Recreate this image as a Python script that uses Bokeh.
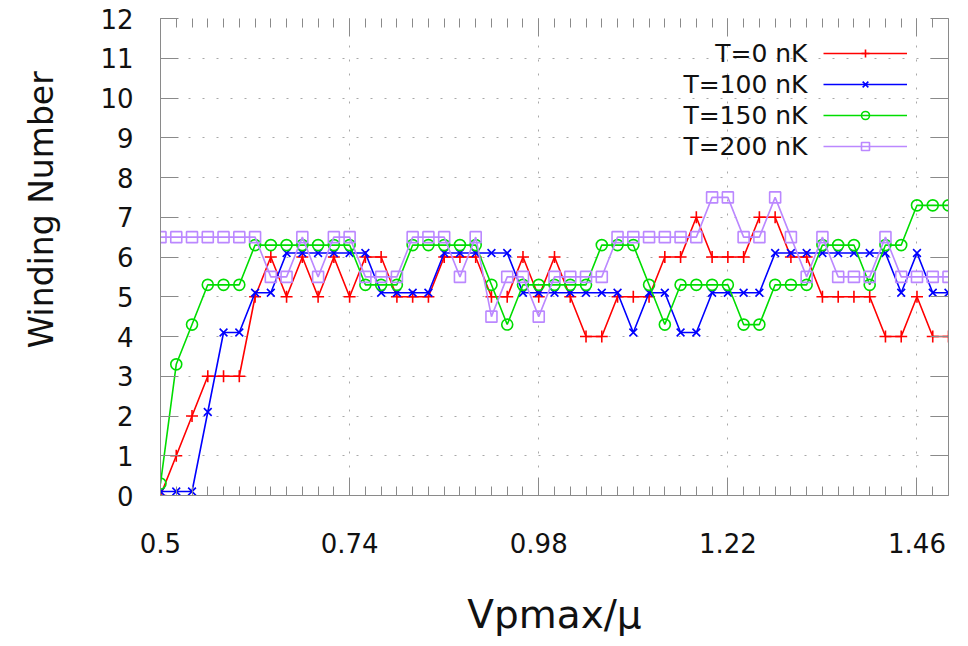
import math
from bokeh.plotting import figure
from bokeh.models import Range1d, FixedTicker, LinearAxis, Legend, LegendItem, Label
from bokeh.embed import file_html
from bokeh.resources import INLINE
from bokeh.core.properties import value

# ---------------- data ----------------
x_vals = [0.50, 0.52, 0.54, 0.56, 0.58, 0.60, 0.62, 0.64, 0.66, 0.68,
          0.70, 0.72, 0.74, 0.76, 0.78, 0.80, 0.82, 0.84, 0.86, 0.88,
          0.90, 0.92, 0.94, 0.96, 0.98, 1.00, 1.02, 1.04, 1.06, 1.08,
          1.10, 1.12, 1.14, 1.16, 1.18, 1.20, 1.22, 1.24, 1.26, 1.28,
          1.30, 1.32, 1.34, 1.36, 1.38, 1.40, 1.42, 1.44, 1.46, 1.48, 1.50]

t0 = [0, 1, 2, 3, 3, 3, 5, 6, 5, 6, 5, 6, 5, 6, 6, 5, 5, 5, 6, 6,
      6, 5, 5, 6, 5, 6, 5, 4, 4, 5, 5, 5, 6, 6, 7, 6, 6, 6, 7, 7,
      6, 6, 5, 5, 5, 5, 4, 4, 5, 4, 4]

t100 = [0.1, 0.1, 0.1, 2.1, 4.1, 4.1, 5.1, 5.1, 6.1, 6.1, 6.1, 6.1, 6.1, 6.1,
        5.1, 5.1, 5.1, 5.1, 6.1, 6.1, 6.1, 6.1, 6.1, 5.1, 5.1, 5.1,
        5.1, 5.1, 5.1, 5.1, 4.1, 5.1, 5.1, 4.1, 4.1, 5.1, 5.1, 5.1,
        5.1, 6.1, 6.1, 6.1, 6.1, 6.1, 6.1, 6.1, 6.1, 5.1, 6.1, 5.1, 5.1]

t150 = [0.3, 3.3, 4.3, 5.3, 5.3, 5.3, 6.3, 6.3, 6.3, 6.3, 6.3, 6.3, 6.3, 5.3,
        5.3, 5.3, 6.3, 6.3, 6.3, 6.3, 6.3, 5.3, 4.3, 5.3, 5.3, 5.3,
        5.3, 5.3, 6.3, 6.3, 6.3, 5.3, 4.3, 5.3, 5.3, 5.3, 5.3, 4.3,
        4.3, 5.3, 5.3, 5.3, 6.3, 6.3, 6.3, 5.3, 6.3, 6.3, 7.3, 7.3, 7.3]

t200 = [6.5, 6.5, 6.5, 6.5, 6.5, 6.5, 6.5, 5.5, 5.5, 6.5, 5.5, 6.5, 6.5,
        5.5, 5.5, 5.5, 6.5, 6.5, 6.5, 5.5, 6.5, 4.5, 5.5, 5.5, 4.5,
        5.5, 5.5, 5.5, 5.5, 6.5, 6.5, 6.5, 6.5, 6.5, 6.5, 7.5, 7.5,
        6.5, 6.5, 7.5, 6.5, 5.5, 6.5, 5.5, 5.5, 5.5, 6.5, 5.5, 5.5, 5.5, 5.5]

series_labels = ["T=0 nK", "T=100 nK", "T=150 nK", "T=200 nK"]
x_ticks = [0.5, 0.74, 0.98, 1.22, 1.46]
x_tick_labels = ["0.5", "0.74", "0.98", "1.22", "1.46"]
y_ticks = [0, 1, 2, 3, 4, 5, 6, 7, 8, 9, 10, 11, 12]
x_title = "Vpmax/\u03bc"
y_title = "Winding Number"

# ---------------- layout / style ----------------
W, H = 968, 646
L, R, T, B = 160, 20, 18, 151
X0, X1, Y0, Y1 = 0.5, 1.5, 0, 12
FW, FH = W - L - R, H - T - B
FONT = "DejaVu Sans"
BORDER = "#8a8a8a"
INK = "#111111"


def px_to_x(px):
    return X0 + (px - L) / FW * (X1 - X0)


def py_to_y(py):
    return Y0 + (T + FH - py) / FH * (Y1 - Y0)


p = figure(width=W, height=H, x_range=Range1d(X0, X1), y_range=Range1d(Y0, Y1),
           output_backend="svg", toolbar_location=None,
           min_border_left=L, min_border_right=R, min_border_top=T, min_border_bottom=B)
p.outline_line_color = None
p.background_fill_color = "white"
p.border_fill_color = "white"

# grid
p.xgrid.ticker = FixedTicker(ticks=x_ticks)
p.ygrid.ticker = FixedTicker(ticks=y_ticks)
for g in (p.xgrid, p.ygrid):
    g.grid_line_color = "#a8a8a8"
    g.grid_line_dash = "2 12"
    g.grid_line_width = 1

# bottom axis
xa = p.xaxis[0]
xa.ticker = FixedTicker(ticks=x_ticks, minor_ticks=x_vals)
xa.major_label_overrides = {t: lab for t, lab in zip(x_ticks, x_tick_labels)}
# left axis
ya = p.yaxis[0]
ya.ticker = FixedTicker(ticks=y_ticks)

for ax in (xa, ya):
    ax.axis_line_color = BORDER
    ax.major_tick_line_color = BORDER
    ax.minor_tick_line_color = BORDER
    ax.major_tick_in = 18
    ax.major_tick_out = 0
    ax.minor_tick_in = 9
    ax.minor_tick_out = 0
    ax.major_label_text_font = FONT
    ax.major_label_text_font_size = "26px"
    ax.major_label_text_color = INK
    ax.axis_label_text_font = FONT
    ax.axis_label_text_font_style = "normal"
    ax.axis_label_text_color = INK
ya.minor_tick_line_color = None
xa.major_label_standoff = 37
ya.major_label_standoff = 27

# axis titles (left title padded with no-break spaces to sit higher, as in the source)
xa.axis_label = x_title
xa.axis_label_text_font_size = "39px"
xa.axis_label_standoff = 36
ya.axis_label = "\u00a0" * 9 + y_title
ya.axis_label_text_font_size = "33px"
ya.axis_label_standoff = 36

# right mirror axis (ticks only)
ra = LinearAxis(ticker=FixedTicker(ticks=y_ticks))
ra.axis_line_color = BORDER
ra.major_tick_line_color = BORDER
ra.minor_tick_line_color = None
ra.major_tick_in = 18
ra.major_tick_out = 0
ra.major_label_text_color = None
ra.major_label_text_font_size = "1px"
ra.major_label_standoff = 0
p.add_layout(ra, "right")

# top mirror axis (ticks only)
ta = LinearAxis(ticker=FixedTicker(ticks=x_ticks, minor_ticks=x_vals))
ta.axis_line_color = None
ta.major_tick_line_color = BORDER
ta.minor_tick_line_color = BORDER
ta.major_tick_in = 18
ta.major_tick_out = 0
ta.minor_tick_in = 9
ta.minor_tick_out = 0
ta.major_label_text_color = None
ta.major_label_text_font_size = "1px"
ta.major_label_standoff = 0
p.add_layout(ta, "above")

# ---------------- series ----------------
styles = [
    ("#ff0000", "cross", 12),
    ("#0000ff", "x", 11),
    ("#00dd00", "circle", 11),
    ("#bb88ff", "square", 11),
]
series = [t0, t100, t150, t200]
items = []
for ys, (col, mk, sz) in zip(series, styles):
    lr = p.line(x_vals, ys, line_color=col, line_width=1.6)
    sr = p.scatter(x_vals, ys, marker=mk, size=sz, line_color=col,
                   fill_color=None, line_width=1.6)
    items.append(LegendItem(label=value(" "), renderers=[lr, sr]))

# legend glyphs (the series names are drawn to their left as separate text)
row_pitch = 31
first_row_center = 53
glyph_h = 20
leg_height = 4 * glyph_h + 3 * (row_pitch - glyph_h)
leg_top = first_row_center - glyph_h / 2
legend = Legend(items=items,
                location=(823 - L, int(round(T + FH - (leg_top + leg_height)))),
                glyph_width=84, glyph_height=glyph_h, spacing=row_pitch - glyph_h,
                padding=0, margin=0, label_standoff=2,
                label_text_font_size="6px", label_text_color=None,
                label_height=10, label_width=4,
                border_line_color=None, background_fill_alpha=0)
p.add_layout(legend)

for i, lab in enumerate(series_labels):
    cy = first_row_center + i * row_pitch
    p.add_layout(Label(x=px_to_x(807), y=py_to_y(cy), text=lab,
                       text_align="right", text_baseline="middle",
                       text_font=FONT, text_font_size="25px", text_color=INK))

open("out.html", "w").write(file_html(p, INLINE))
